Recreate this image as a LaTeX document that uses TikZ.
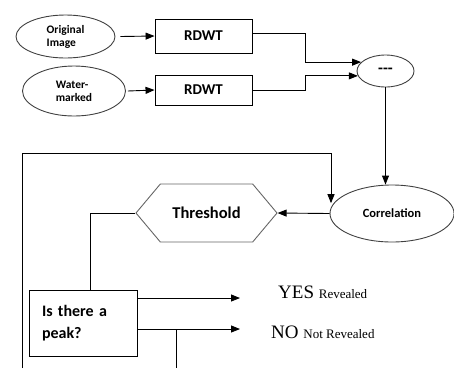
\documentclass[tikz,border=0pt]{standalone}
\usepackage{fontspec}
\setmainfont{Liberation Serif}
\newfontfamily\calibri{Carlito}
\newfontfamily\calibritight[WordSpace=0.55]{Carlito}
\usetikzlibrary{arrows.meta,shapes.geometric,shapes.symbols}
\tikzset{
	flow/.style={line width=0.9pt, draw=black},
	arr/.style={flow, -{Triangle[length=9pt,width=7pt]}},
	oval/.style={ellipse, draw=black!75, line width=0.9pt, inner sep=0pt},
	block/.style={rectangle, draw=black, line width=0.9pt, inner sep=0pt},
	hexa/.style={signal, signal to=west and east, signal pointer angle=100, draw=black!60, line width=0.9pt, inner sep=0pt},
	bold/.style={font=\calibri\bfseries\fontsize{#1}{#1}\selectfont},
}

\begin{document}
\begin{tikzpicture}[x=1pt, y=-1pt]
	%%%%% START %%%%%
	
	\useasboundingbox (0, 0) rectangle (454, 368);
	
	\node[oval, minimum width=99pt, minimum height=43pt, align=left, font=\calibri\bfseries\fontsize{11.5}{13}\selectfont] (orig) at (65.5, 36.5) {Original\\Image};
	\node[oval, minimum width=103pt, minimum height=50pt, align=left, font=\calibri\bfseries\fontsize{11.5}{13}\selectfont] (wm) at (74, 91) {Water-\\marked};
	
	\node[block, minimum width=97pt, minimum height=34pt, bold=15] (rdwtA) at (203.5, 36) {RDWT};
	\node[block, minimum width=97pt, minimum height=30pt, bold=15] (rdwtB) at (203.5, 90) {RDWT};
	
	\node[oval, minimum width=57pt, minimum height=32pt, bold=16] (sub) at (385.5, 71) {-{}-{}-};
	\node[oval, minimum width=124pt, minimum height=57pt, bold=12.5] (corr) at (392, 213.5) {Correlation};
	\node[hexa, minimum width=141pt, minimum height=58pt, bold=16.5] (thr) at (206.5, 213) {Threshold};
	
	\node[block, minimum width=108pt, minimum height=66pt, text width=82pt, align=left, font=\calibritight\bfseries\fontsize{16}{22}\selectfont] (peak) at (83, 323) {Is there a\\peak?};
	
	\node[anchor=base west, inner sep=0pt] (yes) at (278, 298) {\fontsize{19}{20}\selectfont YES \fontsize{13}{14}\selectfont Revealed};
	\node[anchor=base west, inner sep=0pt] (no) at (271, 338) {\fontsize{19}{20}\selectfont NO \fontsize{13}{14}\selectfont Not Revealed};
	
	\coordinate (yesend) at (240, 298);
	\coordinate (noend) at (240, 329);
	\coordinate (looptop) at (331, 153);
	\coordinate (loopbot) at (22.5, 368);
	\coordinate (nobot) at (176, 368);
	
	\draw[arr] ([xshift=5pt]orig.east) -- (rdwtA.west);
	\draw[arr] ([xshift=2pt]wm.east) -- (rdwtB.west);
	\draw[arr] ([yshift=3pt]rdwtA.east) -- ++(53, 0) |- (sub.160);
	\draw[arr] (rdwtB.east) -- ++(53, 0) |- (sub.190);
	\draw[arr] (sub.south) -- (sub.south |- corr.north);
	
	\draw[arr] (loopbot) |- (looptop) -- (looptop |- corr.170);
	\draw[arr] (corr.west) -- (thr.east);
	\draw[flow] (thr.west) -| ([xshift=7pt]peak.north);
	
	\draw[arr] (peak.east |- yesend) -- (yesend);
	\draw[arr] (peak.east |- noend) -- (noend);
	\draw[flow] (noend -| nobot) -- (nobot);
	
	%%%%% END %%%%%
\end{tikzpicture}
\end{document}
